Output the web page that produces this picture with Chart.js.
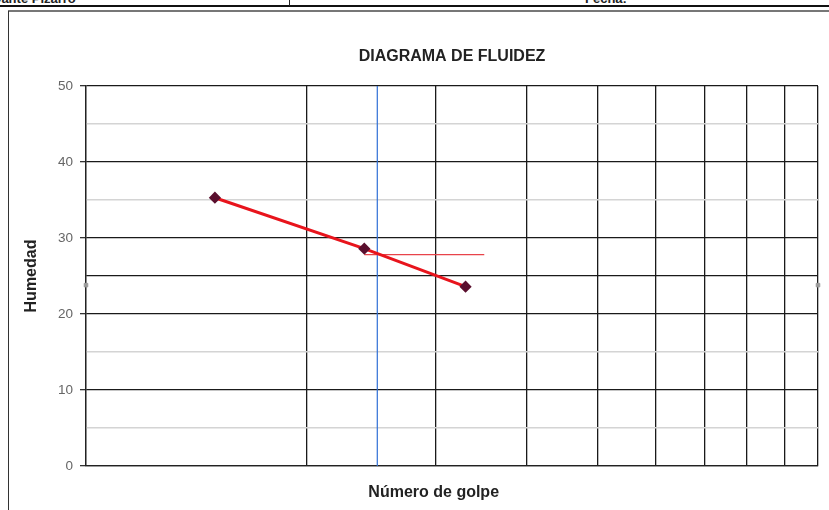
<!DOCTYPE html>
<html lang="es">
<head>
<meta charset="utf-8">
<title>Diagrama de fluidez</title>
<script src="https://cdn.jsdelivr.net/npm/chart.js@4"></script>
<style>
  body { margin: 0; background: #fff; width: 829px; height: 510px; overflow: hidden; position: relative; font-family: "Liberation Sans", Arial, sans-serif; }
  .cab { position: absolute; top: -9px; font-size: 13px; font-weight: bold; color: #222; white-space: nowrap; }
  .linea-negra { position: absolute; left: 0; top: 5px; width: 829px; height: 2px; background: #111; }
  .linea-gris { position: absolute; left: 8px; top: 10px; width: 821px; height: 2px; background: #777; }
  .div-cab { position: absolute; left: 289px; top: 0; width: 1px; height: 6px; background: #222; }
  .borde-izq { position: absolute; left: 8px; top: 11px; width: 1px; height: 499px; background: #333; }
  #caja { position: absolute; left: 10px; top: 16px; width: 819px; height: 494px; }
</style>
</head>
<body>
<div class="cab" style="left:-8px">Dante Pizarro</div>
<div class="cab" style="left:585px">Fecha:</div>
<div class="linea-negra"></div>
<div class="div-cab"></div>
<div class="linea-gris"></div>
<div class="borde-izq"></div>
<div id="caja"><canvas id="fluidez"></canvas></div>
<script>
// ensayo de límite líquido: golpes vs contenido de humedad (%)
const golpes = [15, 24, 33];
const humedad = [35.3, 28.6, 23.6];

// línea horizontal del límite líquido y vertical en 25 golpes
const limiteX = [24, 35];
const limiteY = [27.8, 27.8];
const golpe25X = [25, 25];
const golpe25Y = [0, 50];

// marcas grises en los bordes
const marcaX = [10, 100];
const marcaY = [23.8, 23.8];

// escalas
const ticksX = [10, 20, 30, 40, 50, 60, 70, 80, 90, 100];
const ticksY = [0, 5, 10, 15, 20, 25, 30, 35, 40, 45, 50];
const etiquetasY = ['0', '10', '20', '30', '40', '50'];

const pares = (xs, ys) => xs.map((x, i) => ({ x: x, y: ys[i] }));
const esFuerte = v => v % 10 === 0 || v === 25;
const fuenteNegrita = { family: "'Liberation Sans', Arial, sans-serif", size: 16, weight: 'bold' };

// título del eje x, algo a la izquierda del centro del área
const tituloEjeX = {
    id: 'tituloEjeX',
    afterDraw(chart) {
        const { ctx, chartArea } = chart;
        ctx.save();
        ctx.font = 'bold 16px "Liberation Sans", Arial, sans-serif';
        ctx.fillStyle = '#222';
        ctx.textAlign = 'center';
        ctx.textBaseline = 'middle';
        ctx.fillText('Número de golpe', chartArea.left + chartArea.width * 0.475, chartArea.bottom + 27);
        ctx.restore();
    }
};

new Chart(document.getElementById('fluidez'), {
    type: 'scatter',
    data: {
        datasets: [{
            label: 'Humedad',
            data: pares(golpes, humedad),
            showLine: true,
            borderColor: '#e8141c',
            borderWidth: 3,
            pointStyle: 'rectRot',
            pointRadius: 4,
            pointBackgroundColor: '#5a0f2e',
            pointBorderColor: '#5a0f2e',
            order: 1
        }, {
            label: 'Límite líquido',
            data: pares(limiteX, limiteY),
            showLine: true,
            borderColor: '#e8434a',
            borderWidth: 1.2,
            pointRadius: 0,
            order: 2
        }, {
            label: '25 golpes',
            data: pares(golpe25X, golpe25Y),
            showLine: true,
            borderColor: '#2f6fd6',
            borderWidth: 1.2,
            pointRadius: 0,
            order: 3
        }, {
            label: 'Marcas',
            data: pares(marcaX, marcaY),
            showLine: false,
            pointStyle: 'rect',
            pointRadius: 2.5,
            pointBackgroundColor: '#9a9a9a',
            pointBorderColor: '#9a9a9a',
            clip: false,
            order: 4
        }]
    },
    options: {
        responsive: true,
        maintainAspectRatio: false,
        animation: false,
        layout: { padding: { left: 0, right: 11, top: 0, bottom: 0 } },
        scales: {
            x: {
                type: 'logarithmic',
                min: 10,
                max: 100,
                afterBuildTicks: s => { s.ticks = ticksX.map(v => ({ value: v })); },
                afterFit: s => { s.height = 44; },
                ticks: { display: false },
                grid: { color: '#1a1a1a', lineWidth: 1.3, drawTicks: false },
                border: { color: '#222', width: 1.3 }
            },
            y: {
                min: 0,
                max: 50,
                afterBuildTicks: s => { s.ticks = ticksY.map(v => ({ value: v })); },
                afterFit: s => { s.width = 76; },
                ticks: {
                    padding: 7,
                    color: '#666',
                    font: { family: "'Liberation Sans', Arial, sans-serif", size: 13.5 },
                    callback: v => etiquetasY.includes(String(v)) ? String(v) : ''
                },
                grid: {
                    color: c => esFuerte(c.tick.value) ? '#1a1a1a' : '#d4d4d4',
                    lineWidth: c => esFuerte(c.tick.value) ? 1.3 : 1.6,
                    tickColor: c => c.tick.value % 10 === 0 ? '#333' : 'rgba(0,0,0,0)',
                    tickLength: 6
                },
                border: { color: '#222', width: 1.3 },
                title: {
                    display: true,
                    text: 'Humedad',
                    color: '#222',
                    font: fuenteNegrita,
                    padding: { top: 12.4, bottom: 0 }
                }
            }
        },
        plugins: {
            legend: { display: false },
            tooltip: { enabled: false },
            title: {
                display: true,
                fullSize: false,
                text: 'DIAGRAMA DE FLUIDEZ',
                color: '#222',
                font: fuenteNegrita,
                padding: { top: 31.4, bottom: 19.4 }
            }
        }
    },
    plugins: [tituloEjeX]
});
</script>
</body>
</html>
